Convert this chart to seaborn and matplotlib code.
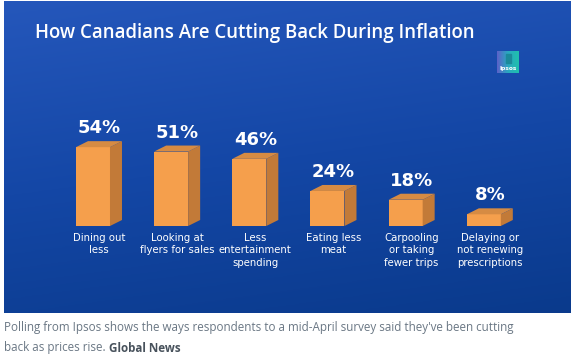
import numpy as np
import pandas as pd
import matplotlib
matplotlib.use("Agg")
import matplotlib.pyplot as plt
import seaborn as sns
from matplotlib.patches import Polygon
from matplotlib.colors import LinearSegmentedColormap

# ---------------- data ----------------
categories = ["Dining out\nless", "Looking at\nflyers for sales", "Less\nentertainment\nspending",
              "Eating less\nmeat", "Carpooling\nor taking\nfewer trips", "Delaying or\nnot renewing\nprescriptions"]
values = [54, 51, 46, 24, 18, 8]
value_labels = ["54%", "51%", "46%", "24%", "18%", "8%"]
title = "How Canadians Are Cutting Back During Inflation"
caption_line1 = "Polling from Ipsos shows the ways respondents to a mid-April survey said they've been cutting"
caption_line2 = "back as prices rise. "
caption_source = "Global News"

# ---------------- style ----------------
W, H, DPI = 574, 354, 100
sns.set_theme(style="white")
plt.rcParams['font.family'] = ['DejaVu Sans']

FRONT = '#f59f4c'
SIDE = '#c27a38'
TOP = '#d68b43'

fig = plt.figure(figsize=(W / DPI, H / DPI), dpi=DPI)
fig.patch.set_facecolor('white')


def px_rect(x0, y0, x1, y1):
    return [x0 / W, 1 - y1 / H, (x1 - x0) / W, (y1 - y0) / H]


# background panel with gradient
bg = fig.add_axes(px_rect(4, 1, 571, 313))
bg.axis('off')
yy, xx = np.mgrid[0:1:120j, 0:1:240j]
grad = 0.8 * yy + 0.2 * xx
bg_cmap = LinearSegmentedColormap.from_list('bg', ['#2557bb', '#1447a6', '#0a3a8c'])
bg.imshow(grad, cmap=bg_cmap, aspect='auto', extent=[0, 1, 0, 1], interpolation='bicubic')
bg.set_xlim(0, 1)
bg.set_ylim(0, 1)

# logo
lg = fig.add_axes(px_rect(497, 51, 519, 73))
lg.axis('off')
lg.imshow(np.linspace(0, 1, 50)[None, :],
          cmap=LinearSegmentedColormap.from_list('lg', ['#5b62c9', '#2aa9c0', '#1fc0ad']),
          aspect='auto', extent=[0, 1, 0, 1])
lg.add_patch(plt.Rectangle((0.42, 0.45), 0.2, 0.4, color='#1b8a9a'))
lg.text(0.5, 0.2, 'Ipsos', color='white', fontsize=4.2, fontweight='bold', ha='center', va='center')
lg.set_xlim(0, 1)
lg.set_ylim(0, 1)

# main bar axes
AX_L, AX_R = 53.9, 53.9 + 469
AX_B = 226
YMAX = 60
PX_PER_UNIT = 1.46
AX_T = AX_B - PX_PER_UNIT * YMAX
ax = fig.add_axes(px_rect(AX_L, AX_T, AX_R, AX_B))
ax.patch.set_alpha(0)

df = pd.DataFrame({'category': categories, 'value': values})
sns.barplot(data=df, x='category', y='value', color=FRONT, width=0.435, saturation=1,
            ax=ax, linewidth=0, edgecolor='none')
ax.set_xlim(-0.5, 5.5)
ax.set_ylim(0, YMAX)
ax.axis('off')

DX_PX, DY_PX = 12, 6
dx = DX_PX * 6 / (AX_R - AX_L)
dy = DY_PX / PX_PER_UNIT

for bar, lab, cat in zip(ax.patches, value_labels, categories):
    x0 = bar.get_x()
    x1 = x0 + bar.get_width()
    h = bar.get_height()
    ax.add_patch(Polygon([(x1, 0), (x1 + dx, dy), (x1 + dx, h + dy), (x1, h)],
                         closed=True, facecolor=SIDE, edgecolor='none', clip_on=False))
    ax.add_patch(Polygon([(x0, h), (x1, h), (x1 + dx, h + dy), (x0 + dx, h + dy)],
                         closed=True, facecolor=TOP, edgecolor='none', clip_on=False))
    cx = (x0 + x1) / 2 + dx / 2
    ax.annotate(lab, xy=(cx, h + dy), xytext=(0, 8), textcoords='offset pixels',
                ha='center', va='baseline', color='white', fontsize=13, fontweight='bold',
                annotation_clip=False)
    ax.annotate(cat, xy=(cx, 0), xytext=(0, -7), textcoords='offset pixels',
                ha='center', va='top', color='white', fontsize=7.3, linespacing=1.3,
                multialignment='center', annotation_clip=False)

# title
t = fig.text(35 / W, 1 - 33 / H, title, ha='left', va='center', color='white',
             fontsize=15, fontweight='semibold', family=['Open Sans', 'DejaVu Sans'])

# caption
CAP_COLOR = '#6a7784'
c1 = fig.text(4 / W, 1 - 328 / H, caption_line1, ha='left', va='center', color=CAP_COLOR,
              fontsize=8.5, family=['Open Sans', 'DejaVu Sans'])
c2 = fig.text(4 / W, 1 - 348 / H, caption_line2, ha='left', va='center', color=CAP_COLOR,
              fontsize=8.5, family=['Open Sans', 'DejaVu Sans'])

fig.canvas.draw()
r = fig.canvas.get_renderer()
for txt, target in [(t, 442), (c1, 509)]:
    wpx = txt.get_window_extent(r).width
    txt.set_fontsize(txt.get_fontsize() * target / wpx)
c2.set_fontsize(c1.get_fontsize())
fig.canvas.draw()
c2bb = c2.get_window_extent(r)
fig.text(c2bb.x1 / W, 1 - 348 / H, caption_source, ha='left', va='center', color='#48525c',
         fontsize=c1.get_fontsize(), fontweight='bold', family=['Open Sans', 'DejaVu Sans'])

fig.savefig('out.png', dpi=DPI, facecolor='white')
